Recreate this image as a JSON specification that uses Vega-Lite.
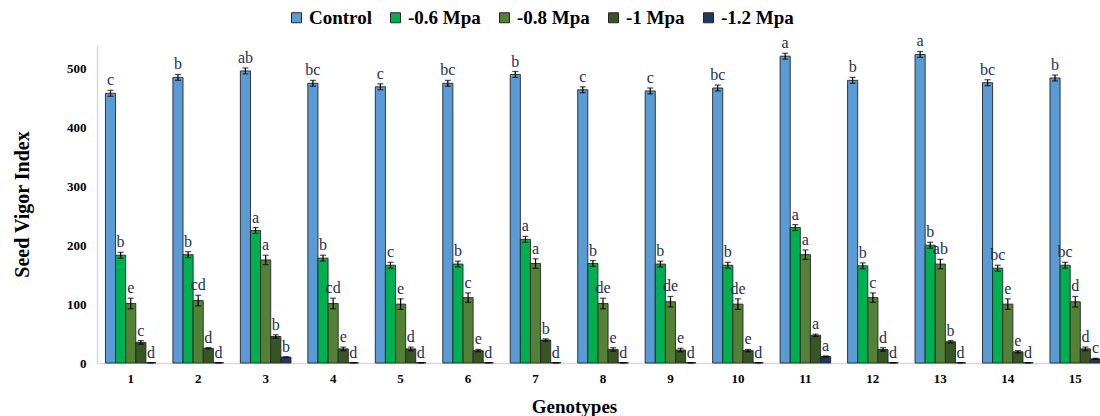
{
  "$schema": "https://vega.github.io/schema/vega-lite/v6.json",
  "width": 1012,
  "height": 318,
  "autosize": {"type": "none"},
  "padding": {"left": 97, "top": 45, "right": 0, "bottom": 53},
  "background": "white",
  "config": {"view": {"stroke": null}, "font": "Liberation Serif"},
  "data": {"values": [
    {"g": 1, "t": "Control", "v": 458, "lo": 453, "hi": 463, "l": "c"},
    {"g": 2, "t": "Control", "v": 485, "lo": 480, "hi": 490, "l": "b"},
    {"g": 3, "t": "Control", "v": 496, "lo": 491, "hi": 501, "l": "ab"},
    {"g": 4, "t": "Control", "v": 475, "lo": 470, "hi": 480, "l": "bc"},
    {"g": 5, "t": "Control", "v": 469, "lo": 464, "hi": 474, "l": "c"},
    {"g": 6, "t": "Control", "v": 475, "lo": 470, "hi": 480, "l": "bc"},
    {"g": 7, "t": "Control", "v": 490, "lo": 485, "hi": 495, "l": "b"},
    {"g": 8, "t": "Control", "v": 464, "lo": 459, "hi": 469, "l": "c"},
    {"g": 9, "t": "Control", "v": 462, "lo": 457, "hi": 467, "l": "c"},
    {"g": 10, "t": "Control", "v": 467, "lo": 462, "hi": 472, "l": "bc"},
    {"g": 11, "t": "Control", "v": 521, "lo": 516, "hi": 526, "l": "a"},
    {"g": 12, "t": "Control", "v": 480, "lo": 475, "hi": 485, "l": "b"},
    {"g": 13, "t": "Control", "v": 524, "lo": 519, "hi": 529, "l": "a"},
    {"g": 14, "t": "Control", "v": 476, "lo": 471, "hi": 481, "l": "bc"},
    {"g": 15, "t": "Control", "v": 484, "lo": 479, "hi": 489, "l": "b"},
    {"g": 1, "t": "-0.6 Mpa", "v": 183, "lo": 178, "hi": 188, "l": "b"},
    {"g": 2, "t": "-0.6 Mpa", "v": 184, "lo": 179, "hi": 189, "l": "b"},
    {"g": 3, "t": "-0.6 Mpa", "v": 225, "lo": 220, "hi": 230, "l": "a"},
    {"g": 4, "t": "-0.6 Mpa", "v": 178, "lo": 173, "hi": 183, "l": "b"},
    {"g": 5, "t": "-0.6 Mpa", "v": 166, "lo": 161, "hi": 171, "l": "c"},
    {"g": 6, "t": "-0.6 Mpa", "v": 168, "lo": 163, "hi": 173, "l": "b"},
    {"g": 7, "t": "-0.6 Mpa", "v": 210, "lo": 205, "hi": 215, "l": "a"},
    {"g": 8, "t": "-0.6 Mpa", "v": 169, "lo": 164, "hi": 174, "l": "b"},
    {"g": 9, "t": "-0.6 Mpa", "v": 168, "lo": 163, "hi": 173, "l": "b"},
    {"g": 10, "t": "-0.6 Mpa", "v": 166, "lo": 161, "hi": 171, "l": "b"},
    {"g": 11, "t": "-0.6 Mpa", "v": 230, "lo": 225, "hi": 235, "l": "a"},
    {"g": 12, "t": "-0.6 Mpa", "v": 165, "lo": 160, "hi": 170, "l": "b"},
    {"g": 13, "t": "-0.6 Mpa", "v": 200, "lo": 195, "hi": 205, "l": "b"},
    {"g": 14, "t": "-0.6 Mpa", "v": 161, "lo": 156, "hi": 166, "l": "bc"},
    {"g": 15, "t": "-0.6 Mpa", "v": 166, "lo": 161, "hi": 171, "l": "bc"},
    {"g": 1, "t": "-0.8 Mpa", "v": 101, "lo": 92, "hi": 110, "l": "e"},
    {"g": 2, "t": "-0.8 Mpa", "v": 106, "lo": 97, "hi": 115, "l": "cd"},
    {"g": 3, "t": "-0.8 Mpa", "v": 175, "lo": 167, "hi": 183, "l": "a"},
    {"g": 4, "t": "-0.8 Mpa", "v": 101, "lo": 92, "hi": 110, "l": "cd"},
    {"g": 5, "t": "-0.8 Mpa", "v": 100, "lo": 91, "hi": 109, "l": "e"},
    {"g": 6, "t": "-0.8 Mpa", "v": 111, "lo": 103, "hi": 119, "l": "c"},
    {"g": 7, "t": "-0.8 Mpa", "v": 169, "lo": 161, "hi": 177, "l": "a"},
    {"g": 8, "t": "-0.8 Mpa", "v": 101, "lo": 92, "hi": 110, "l": "de"},
    {"g": 9, "t": "-0.8 Mpa", "v": 104, "lo": 95, "hi": 113, "l": "de"},
    {"g": 10, "t": "-0.8 Mpa", "v": 100, "lo": 91, "hi": 109, "l": "de"},
    {"g": 11, "t": "-0.8 Mpa", "v": 184, "lo": 176, "hi": 192, "l": "a"},
    {"g": 12, "t": "-0.8 Mpa", "v": 111, "lo": 103, "hi": 119, "l": "c"},
    {"g": 13, "t": "-0.8 Mpa", "v": 168, "lo": 160, "hi": 176, "l": "ab"},
    {"g": 14, "t": "-0.8 Mpa", "v": 100, "lo": 91, "hi": 109, "l": "e"},
    {"g": 15, "t": "-0.8 Mpa", "v": 104, "lo": 95, "hi": 113, "l": "d"},
    {"g": 1, "t": "-1 Mpa", "v": 35, "lo": 32, "hi": 38, "l": "c"},
    {"g": 2, "t": "-1 Mpa", "v": 25, "lo": 24, "hi": 26, "l": "d"},
    {"g": 3, "t": "-1 Mpa", "v": 45, "lo": 42, "hi": 48, "l": "b"},
    {"g": 4, "t": "-1 Mpa", "v": 24, "lo": 21, "hi": 27, "l": "e"},
    {"g": 5, "t": "-1 Mpa", "v": 24, "lo": 21, "hi": 27, "l": "d"},
    {"g": 6, "t": "-1 Mpa", "v": 21, "lo": 19, "hi": 23, "l": "e"},
    {"g": 7, "t": "-1 Mpa", "v": 39, "lo": 37, "hi": 41, "l": "b"},
    {"g": 8, "t": "-1 Mpa", "v": 23, "lo": 20, "hi": 26, "l": "e"},
    {"g": 9, "t": "-1 Mpa", "v": 22, "lo": 19, "hi": 25, "l": "e"},
    {"g": 10, "t": "-1 Mpa", "v": 21, "lo": 19, "hi": 23, "l": "e"},
    {"g": 11, "t": "-1 Mpa", "v": 47, "lo": 45, "hi": 49, "l": "a"},
    {"g": 12, "t": "-1 Mpa", "v": 23, "lo": 20, "hi": 26, "l": "d"},
    {"g": 13, "t": "-1 Mpa", "v": 36, "lo": 34, "hi": 38, "l": "b"},
    {"g": 14, "t": "-1 Mpa", "v": 19, "lo": 17, "hi": 21, "l": "e"},
    {"g": 15, "t": "-1 Mpa", "v": 24, "lo": 21, "hi": 27, "l": "d"},
    {"g": 1, "t": "-1.2 Mpa", "v": 0.5, "lo": 0.5, "hi": 0.5, "l": "d"},
    {"g": 2, "t": "-1.2 Mpa", "v": 0.5, "lo": 0.5, "hi": 0.5, "l": "d"},
    {"g": 3, "t": "-1.2 Mpa", "v": 10, "lo": 10, "hi": 10, "l": "b"},
    {"g": 4, "t": "-1.2 Mpa", "v": 0.5, "lo": 0.5, "hi": 0.5, "l": "d"},
    {"g": 5, "t": "-1.2 Mpa", "v": 0.5, "lo": 0.5, "hi": 0.5, "l": "d"},
    {"g": 6, "t": "-1.2 Mpa", "v": 0.5, "lo": 0.5, "hi": 0.5, "l": "d"},
    {"g": 7, "t": "-1.2 Mpa", "v": 0.5, "lo": 0.5, "hi": 0.5, "l": "d"},
    {"g": 8, "t": "-1.2 Mpa", "v": 0.5, "lo": 0.5, "hi": 0.5, "l": "d"},
    {"g": 9, "t": "-1.2 Mpa", "v": 0.5, "lo": 0.5, "hi": 0.5, "l": "d"},
    {"g": 10, "t": "-1.2 Mpa", "v": 0.5, "lo": 0.5, "hi": 0.5, "l": "d"},
    {"g": 11, "t": "-1.2 Mpa", "v": 11, "lo": 10, "hi": 12, "l": "a"},
    {"g": 12, "t": "-1.2 Mpa", "v": 0.5, "lo": 0.5, "hi": 0.5, "l": "d"},
    {"g": 13, "t": "-1.2 Mpa", "v": 0.5, "lo": 0.5, "hi": 0.5, "l": "d"},
    {"g": 14, "t": "-1.2 Mpa", "v": 0.5, "lo": 0.5, "hi": 0.5, "l": "d"},
    {"g": 15, "t": "-1.2 Mpa", "v": 7, "lo": 6, "hi": 8, "l": "c"}
  ]},
  "encoding": {
    "x": {
      "field": "g", "type": "ordinal", "title": "Genotypes",
      "scale": {"paddingInner": 0.25, "paddingOuter": 0.125},
      "axis": {
        "labelAngle": 0, "ticks": false, "domainColor": "#d9d9d9", "domainWidth": 1.5,
        "labelFont": "Liberation Serif", "labelFontWeight": "bold", "labelFontSize": 13, "labelColor": "#000",
        "labelPadding": 9,
        "titleFont": "Liberation Serif", "titleFontWeight": "bold", "titleFontSize": 19, "titleColor": "#000",
        "titlePadding": 12, "titleX": 477
      }
    },
    "xOffset": {
      "field": "t", "type": "nominal",
      "sort": ["Control", "-0.6 Mpa", "-0.8 Mpa", "-1 Mpa", "-1.2 Mpa"],
      "scale": {"paddingInner": 0, "paddingOuter": 0}
    }
  },
  "layer": [
    {
      "mark": {"type": "bar", "stroke": "#262626", "strokeWidth": 0.9},
      "encoding": {
        "y": {
          "field": "v", "type": "quantitative", "title": "Seed Vigor Index",
          "scale": {"domain": [0, 540], "nice": false},
          "axis": {
            "values": [0, 100, 200, 300, 400, 500], "grid": false, "ticks": false,
            "domainColor": "#d9d9d9", "domainWidth": 1.5,
            "labelFont": "Liberation Serif", "labelFontWeight": "bold", "labelFontSize": 13, "labelColor": "#000",
            "labelPadding": 11,
            "titleFont": "Liberation Serif", "titleFontWeight": "bold", "titleFontSize": 20, "titleColor": "#000",
            "titlePadding": 34
          }
        },
        "color": {
          "field": "t", "type": "nominal",
          "scale": {
            "domain": ["Control", "-0.6 Mpa", "-0.8 Mpa", "-1 Mpa", "-1.2 Mpa"],
            "range": ["#5b9bd5", "#00b050", "#538135", "#375623", "#1f3864"]
          },
          "legend": {
            "orient": "none", "legendX": 190, "legendY": -37, "direction": "horizontal",
            "title": null, "symbolType": "square", "symbolSize": 100,
            "symbolStrokeColor": "#262626", "symbolStrokeWidth": 1, "symbolOpacity": 1,
            "labelFont": "Liberation Serif", "labelFontSize": 19, "labelFontWeight": "bold", "labelColor": "#000",
            "columnPadding": 14, "labelOffset": 3, "labelLimit": 300
          }
        }
      }
    },
    {
      "mark": {"type": "rule", "color": "#000", "strokeWidth": 1.2},
      "encoding": {
        "y": {"field": "lo", "type": "quantitative"},
        "y2": {"field": "hi"}
      }
    },
    {
      "mark": {"type": "tick", "color": "#000", "size": 6, "thickness": 1.2, "orient": "horizontal"},
      "encoding": {"y": {"field": "hi", "type": "quantitative"}}
    },
    {
      "mark": {"type": "tick", "color": "#000", "size": 6, "thickness": 1.2, "orient": "horizontal"},
      "encoding": {"y": {"field": "lo", "type": "quantitative"}}
    },
    {
      "mark": {"type": "text", "font": "Liberation Serif", "fontSize": 16, "color": "#1f2d5a", "baseline": "alphabetic", "dy": -5},
      "encoding": {
        "y": {"field": "hi", "type": "quantitative"},
        "text": {"field": "l"}
      }
    }
  ]
}
